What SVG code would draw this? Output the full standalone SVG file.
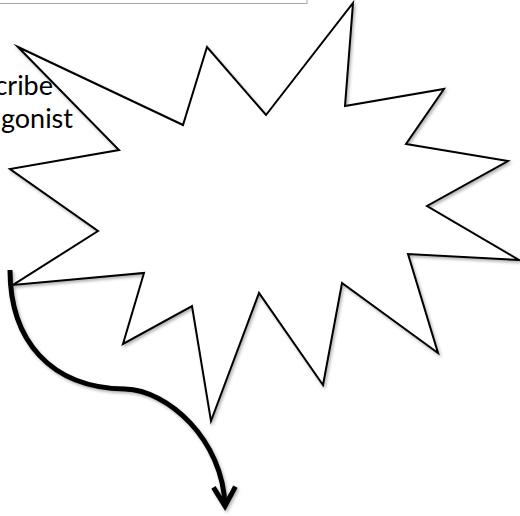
<svg xmlns="http://www.w3.org/2000/svg" width="520" height="516" viewBox="0 0 520 516">
<style>
.box{fill:#fff;stroke:#a6a6a6;stroke-width:1}
.lbl{font-family:Lato,"Open Sans","Liberation Sans",sans-serif;font-size:27px;fill:#000;text-anchor:end}
.star{fill:#fff;stroke:#000;stroke-width:2;stroke-linejoin:miter;stroke-miterlimit:20}
.conn{fill:none;stroke:#000;stroke-width:5;stroke-linecap:butt}
</style>
<defs>
<filter id="sh" x="-10%" y="-10%" width="120%" height="120%">
<feDropShadow dx="1.5" dy="2" stdDeviation="1.5" flood-color="#000" flood-opacity="0.3"/>
</filter>
<marker id="ah" markerUnits="userSpaceOnUse" markerWidth="30" markerHeight="30" refX="0" refY="0" viewBox="-15 -15 30 30" orient="auto" overflow="visible">
<polyline points="-19,-11 0,0 -19,11" fill="none" stroke="#000" stroke-width="5" stroke-linejoin="miter"/>
</marker>
</defs>
<g id="textbox">
<rect class="box" x="-2" y="-2" width="309" height="5.5"/>
</g>
<g id="burst" filter="url(#sh)">
<polygon class="star" points="18,47 183,125 207,47 266,115 353,3 345,106 444,89 406,144 508,161 427,206 519,260 408,254 438,353 342,283 323,385 259,293 211,421 192,306 123,344 144,273 13,285 98,231 10,169 119,150"/>
</g>
<g id="caption">
<text class="lbl" x="53" y="95">cribe</text>
<text class="lbl" x="73" y="128">gonist</text>
</g>
<g id="connectors" filter="url(#sh)">
<path class="conn" d="M10,270 C10,340 50,388 125,389 C168,390 223,440 225,506" marker-end="url(#ah)"/>
</g>
</svg>
